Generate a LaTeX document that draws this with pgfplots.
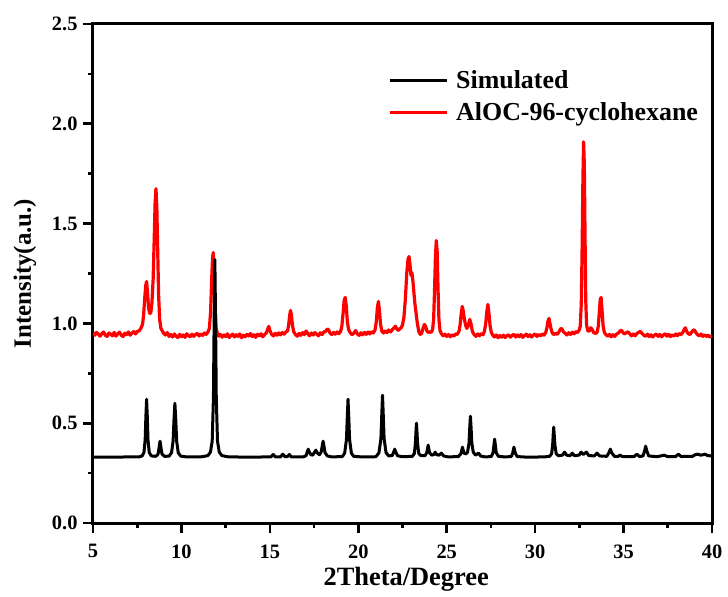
\documentclass[border=0pt]{standalone}
\usepackage{fontspec}
\setmainfont{Liberation Serif}
\usepackage{pgfplots}
\pgfplotsset{compat=1.18}

% measured pattern of the cyclohexane-loaded sample
\pgfplotstableread{
x y
5.0 0.951
5.1 0.941
5.2 0.955
5.3 0.946
5.4 0.936
5.5 0.949
5.6 0.957
5.7 0.940
5.8 0.935
5.9 0.952
6.0 0.946
6.1 0.938
6.2 0.955
6.3 0.936
6.4 0.948
6.5 0.956
6.6 0.941
6.7 0.934
6.8 0.951
6.9 0.944
7.0 0.957
7.1 0.941
7.2 0.951
7.3 0.959
7.4 0.947
7.5 0.960
7.6 0.962
7.7 0.974
7.8 0.995
7.86 1.04
7.92 1.12
7.98 1.19
8.03 1.21
8.08 1.16
8.14 1.08
8.20 1.05
8.26 1.05
8.33 1.10
8.40 1.22
8.46 1.42
8.51 1.60
8.56 1.675
8.61 1.58
8.66 1.36
8.71 1.14
8.77 1.02
8.84 0.975
8.92 0.962
9.0 0.950
9.1 0.942
9.2 0.954
9.3 0.935
9.4 0.944
9.5 0.932
9.6 0.947
9.7 0.936
9.8 0.929
9.9 0.945
10.0 0.934
10.1 0.942
10.2 0.930
10.3 0.948
10.4 0.938
10.5 0.933
10.6 0.946
10.7 0.935
10.8 0.944
10.9 0.950
11.0 0.937
11.1 0.947
11.2 0.940
11.3 0.952
11.4 0.945
11.5 0.957
11.58 0.975
11.65 1.06
11.71 1.22
11.76 1.33
11.80 1.355
11.85 1.26
11.90 1.08
11.96 0.98
12.03 0.950
12.1 0.936
12.2 0.945
12.3 0.931
12.4 0.942
12.5 0.934
12.6 0.948
12.7 0.929
12.8 0.939
12.9 0.946
13.0 0.932
13.1 0.943
13.2 0.935
13.3 0.947
13.4 0.928
13.5 0.941
13.6 0.933
13.7 0.945
13.8 0.937
13.9 0.949
14.0 0.934
14.1 0.943
14.2 0.930
14.3 0.946
14.4 0.938
14.5 0.948
14.6 0.933
14.7 0.944
14.8 0.952
14.88 0.972
14.94 0.985
15.0 0.965
15.1 0.945
15.2 0.937
15.3 0.950
15.4 0.941
15.5 0.952
15.6 0.943
15.7 0.954
15.8 0.946
15.9 0.957
16.0 0.962
16.06 0.99
16.12 1.04
16.17 1.065
16.22 1.04
16.28 0.99
16.35 0.958
16.45 0.944
16.55 0.936
16.65 0.950
16.75 0.940
16.85 0.954
16.95 0.944
17.05 0.962
17.15 0.948
17.25 0.938
17.35 0.952
17.45 0.942
17.55 0.954
17.65 0.945
17.75 0.938
17.85 0.953
17.95 0.944
18.05 0.957
18.15 0.960
18.25 0.972
18.32 0.968
18.4 0.952
18.5 0.944
18.6 0.955
18.7 0.946
18.8 0.957
18.9 0.949
19.0 0.960
19.07 0.985
19.14 1.05
19.20 1.115
19.26 1.13
19.32 1.09
19.38 1.01
19.45 0.970
19.55 0.952
19.65 0.944
19.75 0.951
19.85 0.964
19.95 0.947
20.05 0.940
20.15 0.953
20.25 0.943
20.35 0.955
20.45 0.945
20.55 0.957
20.65 0.947
20.75 0.958
20.85 0.952
20.95 0.968
21.02 1.01
21.08 1.08
21.14 1.11
21.20 1.06
21.26 0.995
21.33 0.962
21.42 0.952
21.52 0.962
21.62 0.954
21.72 0.967
21.82 0.957
21.92 0.968
22.02 0.978
22.1 0.986
22.18 0.972
22.26 0.965
22.34 0.972
22.42 0.978
22.5 0.992
22.58 1.03
22.66 1.12
22.74 1.25
22.81 1.32
22.87 1.335
22.93 1.29
22.98 1.24
23.03 1.255
23.08 1.22
23.14 1.16
23.20 1.10
23.27 1.05
23.34 1.00
23.42 0.960
23.50 0.945
23.58 0.950
23.66 0.975
23.74 0.995
23.81 0.985
23.88 0.962
23.96 0.955
24.04 0.958
24.12 0.955
24.20 0.968
24.26 1.02
24.31 1.16
24.36 1.33
24.41 1.415
24.46 1.36
24.51 1.17
24.56 1.02
24.62 0.965
24.70 0.948
24.8 0.938
24.9 0.946
25.0 0.935
25.1 0.944
25.2 0.933
25.3 0.943
25.4 0.936
25.5 0.947
25.6 0.945
25.7 0.962
25.76 0.995
25.82 1.05
25.88 1.085
25.94 1.06
26.00 1.02
26.07 0.99
26.14 0.975
26.22 0.990
26.30 1.020
26.37 1.000
26.45 0.960
26.55 0.944
26.65 0.935
26.75 0.947
26.85 0.938
26.95 0.949
27.05 0.943
27.13 0.960
27.20 0.995
27.27 1.06
27.33 1.095
27.39 1.05
27.45 0.99
27.52 0.955
27.6 0.941
27.7 0.932
27.8 0.942
27.9 0.928
28.0 0.939
28.1 0.931
28.2 0.941
28.3 0.929
28.4 0.938
28.5 0.943
28.6 0.931
28.7 0.940
28.8 0.945
28.9 0.932
29.0 0.942
29.1 0.934
29.2 0.944
29.3 0.930
29.4 0.939
29.5 0.946
29.6 0.934
29.7 0.943
29.8 0.932
29.9 0.941
30.0 0.947
30.1 0.935
30.2 0.944
30.3 0.937
30.4 0.947
30.5 0.941
30.6 0.955
30.66 0.975
30.72 1.01
30.78 1.025
30.84 1.00
30.90 0.972
30.97 0.952
31.05 0.944
31.15 0.951
31.25 0.945
31.35 0.958
31.45 0.975
31.52 0.972
31.6 0.958
31.7 0.950
31.8 0.942
31.9 0.953
32.0 0.945
32.1 0.956
32.2 0.948
32.3 0.959
32.4 0.954
32.48 0.965
32.55 0.985
32.61 1.10
32.66 1.40
32.70 1.72
32.74 1.91
32.78 1.80
32.82 1.45
32.86 1.12
32.91 0.99
32.98 0.962
33.06 0.962
33.14 0.978
33.21 0.972
33.30 0.955
33.40 0.950
33.50 0.955
33.57 0.985
33.63 1.06
33.68 1.12
33.73 1.13
33.78 1.07
33.84 0.99
33.91 0.955
34.0 0.944
34.1 0.936
34.2 0.945
34.3 0.933
34.4 0.943
34.5 0.935
34.6 0.946
34.7 0.951
34.8 0.962
34.88 0.966
34.96 0.955
35.05 0.947
35.15 0.953
35.25 0.958
35.35 0.947
35.45 0.938
35.55 0.947
35.65 0.938
35.75 0.949
35.85 0.955
35.95 0.960
36.05 0.949
36.15 0.940
36.25 0.936
36.35 0.946
36.45 0.934
36.55 0.943
36.65 0.932
36.75 0.941
36.85 0.947
36.95 0.935
37.05 0.944
37.15 0.933
37.25 0.942
37.35 0.948
37.45 0.936
37.55 0.945
37.65 0.934
37.75 0.943
37.85 0.936
37.95 0.947
38.05 0.939
38.15 0.949
38.25 0.944
38.35 0.955
38.42 0.968
38.49 0.978
38.56 0.962
38.65 0.949
38.75 0.944
38.85 0.956
38.93 0.965
39.0 0.968
39.08 0.955
39.18 0.944
39.28 0.938
39.38 0.947
39.48 0.935
39.58 0.943
39.68 0.934
39.78 0.941
39.88 0.932
40.0 0.937
}\measured

% simulated pattern from the single-crystal structure
\pgfplotstableread{
x y
5.0 0.330
7.6 0.331
7.78 0.336
7.88 0.353
7.95 0.417
7.99 0.533
8.03 0.620
8.07 0.533
8.11 0.417
8.18 0.353
8.30 0.336
8.55 0.334
8.68 0.345
8.74 0.380
8.79 0.410
8.84 0.380
8.90 0.345
9.05 0.334
9.30 0.335
9.44 0.352
9.53 0.411
9.58 0.519
9.63 0.600
9.68 0.519
9.73 0.411
9.82 0.352
9.96 0.335
10.3 0.331
11.2 0.332
11.50 0.338
11.64 0.355
11.74 0.410
11.81 0.630
11.85 1.020
11.89 1.320
11.93 1.020
11.97 0.630
12.04 0.410
12.14 0.355
12.28 0.338
12.6 0.332
13.5 0.330
15.05 0.331
15.19 0.343
15.32 0.331
15.60 0.331
15.73 0.345
15.86 0.332
15.98 0.332
16.10 0.343
16.22 0.331
16.9 0.331
17.05 0.338
17.12 0.358
17.17 0.370
17.22 0.358
17.32 0.342
17.42 0.340
17.53 0.355
17.60 0.365
17.67 0.352
17.80 0.342
17.90 0.355
17.96 0.385
18.01 0.410
18.06 0.385
18.12 0.352
18.25 0.336
18.5 0.331
19.10 0.333
19.23 0.350
19.33 0.417
19.38 0.533
19.42 0.620
19.46 0.533
19.51 0.417
19.61 0.350
19.74 0.334
20.2 0.331
21.00 0.332
21.17 0.352
21.28 0.423
21.33 0.547
21.37 0.640
21.41 0.547
21.46 0.423
21.57 0.352
21.72 0.336
21.92 0.338
22.00 0.355
22.06 0.370
22.12 0.355
22.22 0.337
22.50 0.332
23.06 0.334
23.17 0.348
23.23 0.400
23.26 0.455
23.29 0.500
23.32 0.455
23.35 0.400
23.42 0.348
23.55 0.337
23.78 0.338
23.87 0.352
23.92 0.375
23.95 0.390
23.98 0.375
24.03 0.352
24.15 0.340
24.27 0.343
24.35 0.355
24.43 0.342
24.57 0.340
24.70 0.350
24.82 0.336
25.1 0.331
25.66 0.333
25.80 0.347
25.86 0.368
25.89 0.380
25.92 0.368
25.98 0.350
26.08 0.346
26.18 0.355
26.26 0.400
26.30 0.474
26.34 0.535
26.38 0.474
26.42 0.400
26.50 0.355
26.63 0.340
26.80 0.350
26.93 0.335
27.2 0.331
27.52 0.333
27.62 0.352
27.67 0.390
27.71 0.420
27.75 0.390
27.80 0.352
27.92 0.334
28.30 0.331
28.65 0.333
28.73 0.350
28.77 0.368
28.80 0.380
28.83 0.368
28.88 0.350
28.98 0.333
29.5 0.330
30.5 0.331
30.82 0.334
30.93 0.347
30.99 0.390
31.02 0.440
31.05 0.480
31.08 0.440
31.12 0.390
31.19 0.347
31.32 0.337
31.55 0.340
31.66 0.355
31.78 0.340
31.98 0.337
32.10 0.350
32.22 0.337
32.48 0.340
32.60 0.355
32.72 0.343
32.90 0.355
33.03 0.338
33.35 0.336
33.50 0.350
33.64 0.336
34.05 0.334
34.17 0.352
34.25 0.370
34.33 0.352
34.48 0.334
34.70 0.333
34.80 0.341
34.92 0.333
35.60 0.333
35.75 0.345
35.90 0.333
36.10 0.336
36.19 0.362
36.25 0.385
36.31 0.362
36.42 0.336
36.90 0.332
37.30 0.340
37.50 0.332
37.95 0.333
38.10 0.345
38.25 0.333
38.90 0.334
39.05 0.342
39.20 0.345
39.35 0.340
39.50 0.342
39.60 0.345
39.75 0.338
40.0 0.335
}\simulated

\begin{document}
\begin{tikzpicture}
\begin{axis}[
  at={(0,0)}, anchor=south west,
  scale only axis, width=619bp, height=499bp,
  xmin=5, xmax=40, ymin=0, ymax=2.5,
  xtick={5,10,...,40}, ytick={0,0.5,1,1.5,2,2.5},
  minor x tick num=1, minor y tick num=1,
  tick pos=left, tick align=outside,
  major tick length=10bp, minor tick length=5bp,
  tick style={black, line width=2.6bp},
  axis line style={line width=3bp},
  /pgf/number format/assume math mode=true,
  tick label style={font=\fontsize{20.5}{24}\selectfont\bfseries},
  xticklabel shift=8bp,
  yticklabel shift=2bp,
  yticklabel style={/pgf/number format/fixed, /pgf/number format/fixed zerofill, /pgf/number format/precision=1},
  xlabel={2Theta/Degree}, ylabel={Intensity(a.u.)},
  xlabel style={font=\fontsize{26.5}{30}\selectfont\bfseries, at={(axis description cs:0.506,-0.112)}, anchor=center},
  ylabel style={font=\fontsize{25}{30}\selectfont\bfseries, at={(axis description cs:-0.110,0.5)}, anchor=center},
  legend style={at={(axis description cs:0.4766,0.908)}, anchor=north west,
    draw=none, fill=none, inner sep=0pt, row sep=8bp,
    font=\fontsize{26}{30}\selectfont\bfseries,
    nodes={inner sep=0pt, text height=18bp, text depth=6bp},
    /tikz/every odd column/.append style={column sep=8bp}},
  legend cell align=left,
  legend image code/.code={\draw[#1] (0bp,2bp) -- (57bp,2bp);},
]
\addlegendimage{black, line width=3bp}
\addlegendentry{Simulated}
\addlegendimage{red, line width=3bp}
\addlegendentry{AlOC-96-cyclohexane}
\addplot[red, line width=3.2bp, line join=round, forget plot] table[x=x, y=y] {\measured};
\addplot[black, line width=3bp, line join=round, forget plot] table[x=x, y=y] {\simulated};
\end{axis}
\path (-93bp,-74bp) rectangle (635bp,523bp);
\end{tikzpicture}
\end{document}
